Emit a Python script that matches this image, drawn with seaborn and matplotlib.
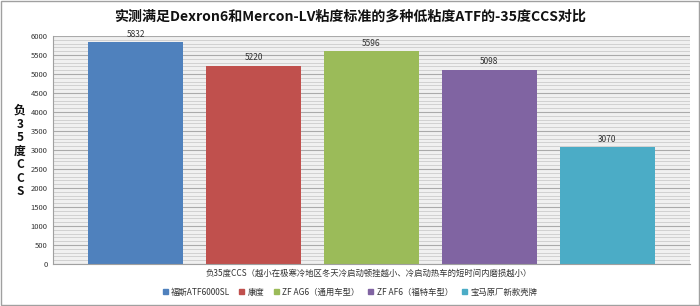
import matplotlib
matplotlib.use("Agg")
import matplotlib.pyplot as plt
import seaborn as sns
import pandas as pd
from matplotlib.ticker import MultipleLocator
from matplotlib.patches import Rectangle

series = ["福斯ATF6000SL", "康度", "ZF AG6（通用车型）", "ZF AF6（福特车型）", "宝马原厂新款壳牌"]
values = [5832, 5220, 5596, 5098, 3070]
colors = ["#4F81BD", "#C0504D", "#9BBB59", "#8064A2", "#4BACC6"]
yticks = list(range(0, 6001, 500))
title = "实测满足Dexron6和Mercon-LV粘度标准的多种低粘度ATF的-35度CCS对比"
xlabel = "负35度CCS（越小在极寒冷地区冬天冷启动顿挫越小、冷启动热车的短时间内磨损越小）"
ylabel = "负\n3\n5\n度\nC\nC\nS"

sns.set_theme(style="white")
plt.rcParams['font.family'] = ['Noto Sans CJK SC', 'DejaVu Sans']

df = pd.DataFrame({"series": series, "value": values})

fig = plt.figure(figsize=(7.0, 3.06), dpi=100)
ax = fig.add_axes([53/700, 1 - 264/306, (690-53)/700, (264-36)/306])

sns.barplot(data=df, x="series", y="value", hue="series", palette=colors,
            dodge=False, width=0.8, legend=False, ax=ax, saturation=1,
            edgecolor="none", linewidth=0)

ax.set_facecolor("#f0f0f0")
ax.set_xlim(-0.7, 4.7)
ax.set_ylim(0, 6000)
ax.set_yticks(yticks)
ax.set_yticklabels([str(t) for t in yticks], fontsize=5.5, color="#333333")
ax.yaxis.set_minor_locator(MultipleLocator(100))
ax.grid(axis="y", which="minor", color="#cccccc", linewidth=0.6)
ax.grid(axis="y", which="major", color="#aaaaaa", linewidth=0.8)
ax.set_axisbelow(True)
ax.set_xticks([])
ax.tick_params(axis="y", length=0, pad=4)
ax.tick_params(axis="y", which="minor", length=0)
for s in ["top", "right"]:
    ax.spines[s].set_visible(False)
for s in ["left", "bottom"]:
    ax.spines[s].set_color("#a0a0a0")
    ax.spines[s].set_linewidth(0.8)

for p, v in zip(ax.patches, values):
    ax.text(p.get_x() + p.get_width() / 2, v + 100, str(v), ha="center", va="bottom",
            fontsize=6, color="#333333")

ax.set_xlabel("")
ax.set_ylabel("")
fig.text(350/700, 1 - 17/306, title, ha="center", va="center", fontsize=10.1, fontweight="bold", color="#111111")
fig.text(20/700, 1 - 151/306, ylabel, ha="center", va="center", fontsize=8.5, fontweight="bold",
         linespacing=1.05, color="#111111")
fig.text(369/700, 1 - 273/306, xlabel, ha="center", va="center", fontsize=6, color="#333333")

handles = [Rectangle((0, 0), 1, 1, color=c) for c in colors]
fig.legend(handles, series, loc="center", bbox_to_anchor=(350/700, 1 - 292/306), ncol=5,
           frameon=False, fontsize=6, handlelength=0.6, handleheight=0.6,
           columnspacing=1.1, handletextpad=0.4, labelcolor="#333333")

border = Rectangle((0.002, 0.003), 0.996, 0.994, transform=fig.transFigure, fill=False,
                   edgecolor="#a0a0a0", linewidth=1.0)
fig.patches.append(border)

fig.savefig("out.png", dpi=100, facecolor="white")
